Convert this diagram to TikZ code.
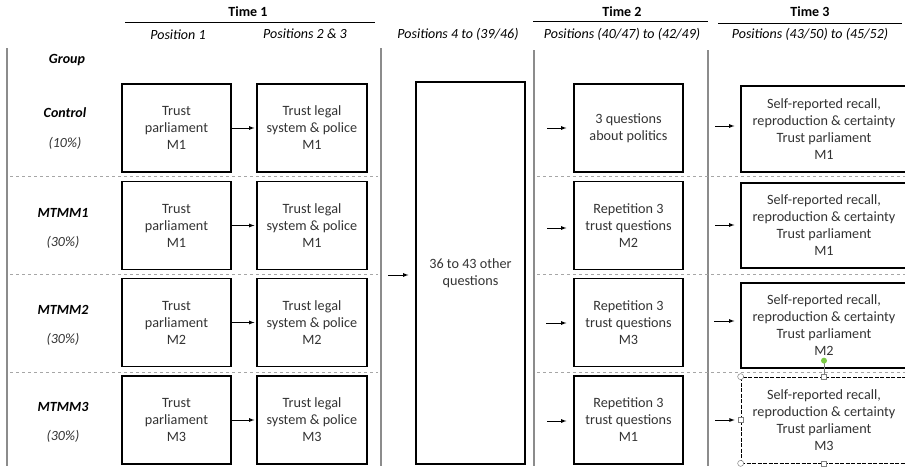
\documentclass[tikz,border=0pt]{standalone}
\usepackage{fontspec}
\setmainfont{Carlito}
\usetikzlibrary{positioning,arrows,shapes}

\definecolor{txtgray}{HTML}{333333}
\definecolor{linegray}{HTML}{8C8C8C}
\definecolor{dashgray}{HTML}{A6A6A6}
\definecolor{rotgreen}{HTML}{7AC943}
\newcommand\boxfont{\fontsize{14.2}{17}\selectfont}
\newcommand\hdrfont{\fontsize{14}{16}\selectfont}

\begin{document}
\begin{tikzpicture}[x=1pt,y=-1pt,
  box/.style={draw, line width=1.2pt, minimum width=109pt, minimum height=88pt,
    inner sep=0pt, align=center, text=txtgray, font=\boxfont},
  wbox/.style={box, minimum width=166pt},
  selbox/.style={line width=0.7pt, dash pattern=on 4pt off 1.5pt},
  hdr/.style={font=\hdrfont\bfseries},
  sub/.style={font=\hdrfont\itshape},
  grp/.style={font=\hdrfont\bfseries\itshape},
  pct/.style={font=\hdrfont\itshape, text=txtgray},
  arr/.style={->, >=latex, line width=0.8pt},
  vline/.style={linegray, line width=2.6pt},
  sep/.style={dashgray, dashed, line width=0.6pt},
  handle/.style={draw=gray, fill=white, line width=0.5pt, inner sep=0pt}]
\useasboundingbox (0,0) rectangle (905,466);

% column headers
\node[hdr] (time1) at (248,12) {Time 1};
\node[hdr] (time2) at (622,12) {Time 2};
\node[hdr] (time3) at (810,12) {Time 3};
\draw[line width=0.7pt] (125,22) -- (375,22);
\draw[line width=0.7pt] (533,21) -- (708,21);
\draw[line width=0.7pt] (718,23) -- (902,23);
\node[sub] (hpos1) at (178,35) {Position 1};
\node[sub] (hpos2) at (305,34) {Positions 2 \& 3};
\node[sub] (hpos4) at (458,34) {Positions 4 to (39/46)};
\node[sub] (hpos40) at (622,34) {Positions (40/47) to (42/49)};
\node[sub] (hpos43) at (810,34) {Positions (43/50) to (45/52)};

% separators
\draw[vline] (7,48) -- (7,466);
\draw[vline] (381,48) -- (381,466);
\draw[vline] (534,50) -- (534,466);
\draw[vline] (708,50) -- (708,466);
\draw[sep] (10,176) -- (378,176);
\draw[sep] (10,274) -- (378,274);
\draw[sep] (10,372) -- (378,372);
\draw[sep] (537,176) -- (905,176);
\draw[sep] (537,274) -- (905,274);
\draw[sep] (537,372) -- (905,372);

% groups
\node[grp] (group) at (67,60) {Group};
\node[grp] (gctrl) at (65,113) {Control};
\node[pct] (pctrl) at (65,143) {(10\%)};
\node[grp] (gm1) at (63,213) {MTMM1};
\node[pct] (pm1) at (63,242) {(30\%)};
\node[grp] (gm2) at (63,310) {MTMM2};
\node[pct] (pm2) at (63,339) {(30\%)};
\node[grp] (gm3) at (63,407) {MTMM3};
\node[pct] (pm3) at (63,436) {(30\%)};

% time 1
\node[box] (a1) at (176.5,128) {Trust\\parliament\\M1};
\node[box] (a2) at (176.5,225.5) {Trust\\parliament\\M1};
\node[box] (a3) at (176.5,322.5) {Trust\\parliament\\M2};
\node[box] (a4) at (176.5,420) {Trust\\parliament\\M3};
\node[box, minimum width=110pt] (b1) at (312,128) {Trust legal\\system \& police\\M1};
\node[box, minimum width=110pt] (b2) at (312,225.5) {Trust legal\\system \& police\\M1};
\node[box, minimum width=110pt] (b3) at (312,322.5) {Trust legal\\system \& police\\M2};
\node[box, minimum width=110pt] (b4) at (312,420) {Trust legal\\system \& police\\M3};
\draw[arr, shorten >=2pt] (a1) -- (b1);
\draw[arr, shorten >=2pt] (a2) -- (b2);
\draw[arr, shorten >=2pt] (a3) -- (b3);
\draw[arr, shorten >=2pt] (a4) -- (b4);

% other questions
\node[box, minimum height=382pt] (other) at (470.5,273) {36 to 43 other\\questions};
\coordinate (otherin) at (388,275);
\draw[arr, shorten >=7pt] (otherin) -- (other.west |- otherin);

% time 2
\node[box] (c1) at (628.5,128) {3 questions\\about politics};
\node[box] (c2) at (628.5,225.5) {Repetition 3\\trust questions\\M2};
\node[box] (c3) at (628.5,322.5) {Repetition 3\\trust questions\\M3};
\node[box] (c4) at (628.5,420) {Repetition 3\\trust questions\\M1};
\coordinate (c1in) at (547,128);
\coordinate (c2in) at (547,228);
\coordinate (c3in) at (546,323);
\coordinate (c4in) at (547,421);
\draw[arr, shorten >=7pt] (c1in) -- (c1.west |- c1in);
\draw[arr, shorten >=7pt] (c2in) -- (c2.west |- c2in);
\draw[arr, shorten >=7pt] (c3in) -- (c3.west |- c3in);
\draw[arr, shorten >=7pt] (c4in) -- (c4.west |- c4in);

% time 3
\node[wbox, minimum height=86pt] (d1) at (824,129) {Self-reported recall,\\reproduction \& certainty\\Trust parliament\\M1};
\node[wbox, minimum height=85pt] (d2) at (824,225.5) {Self-reported recall,\\reproduction \& certainty\\Trust parliament\\M1};
\node[wbox, minimum height=85pt] (d3) at (824,325.5) {Self-reported recall,\\reproduction \& certainty\\Trust parliament\\M2};
\node[wbox, selbox, minimum height=86pt] (d4) at (824,420) {Self-reported recall,\\reproduction \& certainty\\Trust parliament\\M3};
\coordinate (d1in) at (715,126);
\coordinate (d2in) at (715,225);
\coordinate (d3in) at (714,321);
\coordinate (d4in) at (715,420);
\draw[arr, shorten >=6pt] (d1in) -- (d1.west |- d1in);
\draw[arr, shorten >=6pt] (d2in) -- (d2.west |- d2in);
\draw[arr, shorten >=6pt] (d3in) -- (d3.west |- d3in);
\draw[arr, shorten >=6pt] (d4in) -- (d4.west |- d4in);

% selection handles
\coordinate (rot) at ([yshift=16pt]d4.north);
\draw[gray, line width=0.5pt] (rot) -- (d4.north);
\node[circle, fill=rotgreen, minimum size=6pt, inner sep=0pt] at (rot) {};
\node[handle, circle, minimum size=6pt] at (d4.north west) {};
\node[handle, circle, minimum size=6pt] at (d4.south west) {};
\node[handle, minimum size=5pt] at (d4.north) {};
\node[handle, minimum size=5pt] at (d4.south) {};
\node[handle, minimum size=5pt] at (d4.west) {};
\end{tikzpicture}
\end{document}
